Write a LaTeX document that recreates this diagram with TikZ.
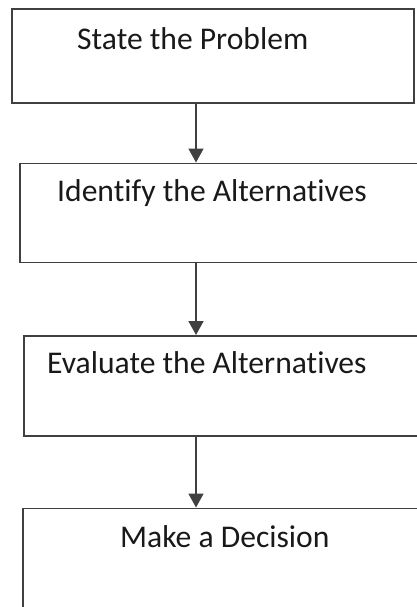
\documentclass[tikz,border=0pt]{standalone}
\usepackage{fontspec}
\setmainfont{Carlito}[Ligatures={NoCommon}]
\usetikzlibrary{arrows.meta}

\tikzset{
    stepbox/.style={draw=black!75, line width=1.6pt, inner sep=0pt, anchor=north west},
    steptext/.style={anchor=base west, inner sep=0pt, font=\fontsize{31.6}{36}\selectfont, text=black!90},
    flow/.style={draw=black!75, line width=1.8pt, -{Triangle[width=15pt,length=14pt]}}
}

\begin{document}
\begin{tikzpicture}[x=1pt, y=-1pt]
\useasboundingbox (0,0) rectangle (417,607);
\clip (0,0) rectangle (417,607);
\coordinate (spine) at (196,0);

\node[stepbox, minimum width=402pt, minimum height=94.5pt] (box1) at (11,8) {};
\node[stepbox, minimum width=420pt, minimum height=99pt] (box2) at (19,162.5) {};
\node[stepbox, minimum width=420pt, minimum height=100pt] (box3) at (23,335) {};
\node[stepbox, minimum width=420pt, minimum height=120pt] (box4) at (22,507.5) {};

\node[steptext] (t1) at (77,49.5) {State the Problem};
\node[steptext] (t2) at (57,201.5) {Identify the Alternatives};
\node[steptext] (t3) at (47,373) {Evaluate the Alternatives};
\node[steptext] (t4) at (120,547) {Make a Decision};

\foreach \a/\b in {box1/box2,box2/box3,box3/box4}
{
    \draw[flow] (\a.south -| spine)--(\b.north -| spine);
}
\end{tikzpicture}
\end{document}
